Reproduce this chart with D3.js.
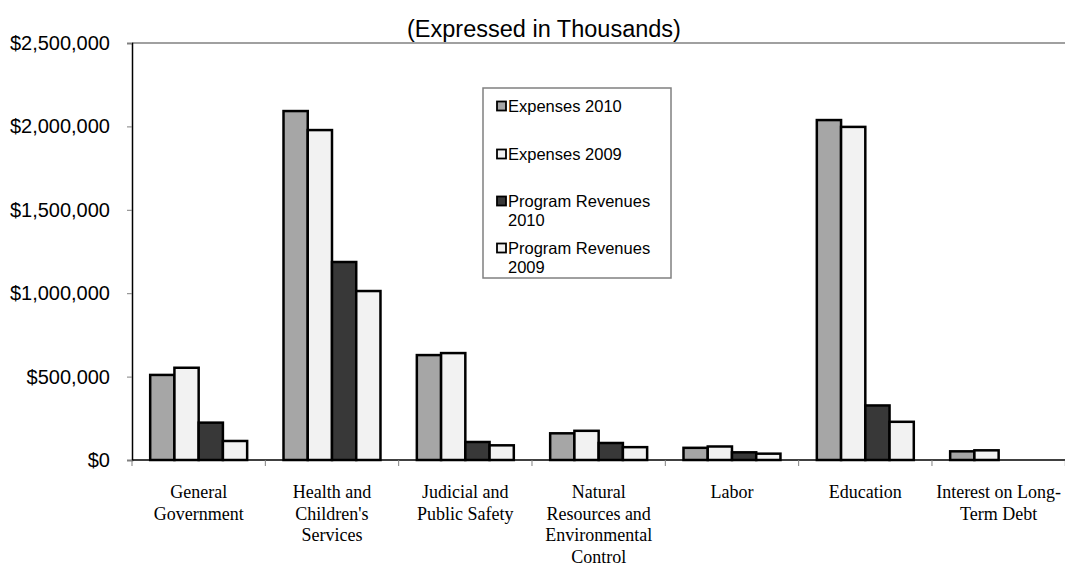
<!DOCTYPE html>
<html>
<head>
    <title>Expenses and Program Revenues</title>
    <script src="https://d3js.org/d3.v7.min.js"></script>
    <style>
        body { margin: 0; background: #fff; }
        svg { display: block; }
    </style>
</head>
<body>
    <svg id="chartdiv"></svg>
    <script>
        // data (expressed in thousands)
        const categories = ["General Government", "Health and Children's Services", "Judicial and Public Safety",
            "Natural Resources and Environmental Control", "Labor", "Education", "Interest on Long-Term Debt"];
        const labelLines = [
            ["General", "Government"],
            ["Health and", "Children's", "Services"],
            ["Judicial and", "Public Safety"],
            ["Natural", "Resources and", "Environmental", "Control"],
            ["Labor"],
            ["Education"],
            ["Interest on Long-", "Term Debt"]
        ];
        const seriesNames = ["Expenses 2010", "Expenses 2009", "Program Revenues 2010", "Program Revenues 2009"];
        const expenses2010 = [510000, 2092000, 629000, 160000, 73000, 2038000, 52000];
        const expenses2009 = [553000, 1978000, 641000, 175000, 81000, 1997000, 58000];
        const revenues2010 = [224000, 1187000, 108000, 102000, 46000, 327000, 0];
        const revenues2009 = [114000, 1013000, 88000, 77000, 38000, 229000, 0];
        const yTicks = [0, 500000, 1000000, 1500000, 2000000, 2500000];

        const colors = ["#a6a6a6", "#f2f2f2", "#383838", "#f2f2f2"];
        const legendLines = [["Expenses 2010"], ["Expenses 2009"], ["Program Revenues", "2010"], ["Program Revenues", "2009"]];

        const width = 1065;
        const height = 565;
        const plotLeft = 132, plotRight = 1065.3, plotTop = 43, plotBottom = 460;

        const svg = d3.select("#chartdiv")
            .attr("width", width)
            .attr("height", height);

        const allSeries = [expenses2010, expenses2009, revenues2010, revenues2009];

        const x0 = d3.scaleBand()
            .domain(categories)
            .range([plotLeft, plotRight]);

        const x1 = d3.scaleBand()
            .domain(seriesNames)
            .range([0, x0.bandwidth()])
            .paddingOuter(0.75);

        const y = d3.scaleLinear()
            .domain([0, 2500000])
            .range([plotBottom, plotTop]);

        // title
        svg.append("text")
            .attr("x", 544)
            .attr("y", 37)
            .attr("text-anchor", "middle")
            .style("font-family", "Liberation Sans, Arial, sans-serif")
            .style("font-size", "23.5px")
            .text("(Expressed in Thousands)");

        // top border of plot area
        svg.append("line")
            .attr("x1", plotLeft).attr("x2", width)
            .attr("y1", plotTop).attr("y2", plotTop)
            .style("stroke", "#808080")
            .style("stroke-width", 1.5);

        // y axis
        const yAxis = svg.append("g")
            .attr("transform", `translate(${plotLeft},0)`)
            .call(d3.axisLeft(y).tickValues(yTicks).tickFormat(d3.format("$,")).tickSize(5).tickPadding(17));
        yAxis.select(".domain").style("stroke", "#000").style("stroke-width", 1.5);
        yAxis.selectAll(".tick line").style("stroke", "#808080");
        yAxis.selectAll("text")
            .style("font-family", "Liberation Sans, Arial, sans-serif")
            .style("font-size", "20px")
            .style("fill", "#000");

        // bars
        const groups = svg.append("g").selectAll("g")
            .data(categories)
            .enter().append("g")
            .attr("transform", d => `translate(${x0(d)},0)`);

        groups.selectAll("rect")
            .data((d, i) => seriesNames.map((s, j) => ({ s: s, j: j, v: allSeries[j][i] })).filter(d => d.v > 0))
            .enter().append("rect")
            .attr("x", d => x1(d.s))
            .attr("y", d => y(d.v))
            .attr("width", x1.bandwidth())
            .attr("height", d => plotBottom - y(d.v))
            .style("fill", d => colors[d.j])
            .style("stroke", "#000")
            .style("stroke-width", 2.5);

        // x axis
        const xAxis = svg.append("g")
            .attr("transform", `translate(0,${plotBottom})`);
        xAxis.append("line")
            .attr("x1", plotLeft).attr("x2", width)
            .style("stroke", "#000")
            .style("stroke-width", 1.5);
        xAxis.selectAll(".xtick")
            .data(categories.concat(["end"]))
            .enter().append("line")
            .attr("class", "xtick")
            .attr("x1", (d, i) => plotLeft + i * x0.step())
            .attr("x2", (d, i) => plotLeft + i * x0.step())
            .attr("y1", 0).attr("y2", 6)
            .style("stroke", "#808080");

        const labels = svg.append("g").selectAll("text")
            .data(categories)
            .enter().append("text")
            .attr("x", d => x0(d) + x0.bandwidth() / 2)
            .attr("y", 498)
            .attr("text-anchor", "middle")
            .style("font-family", "Liberation Serif, Times New Roman, serif")
            .style("font-size", "18px");
        labels.selectAll("tspan")
            .data((d, i) => labelLines[i])
            .enter().append("tspan")
            .attr("x", function() { return this.parentNode.getAttribute("x"); })
            .attr("dy", (d, i) => i === 0 ? 0 : 21.5)
            .text(d => d);

        // legend
        const legend = svg.append("g").attr("transform", "translate(483,88)");
        legend.append("rect")
            .attr("width", 188).attr("height", 190)
            .style("fill", "#fff")
            .style("stroke", "#808080")
            .style("stroke-width", 1.5);

        const itemY = [18, 66, 113, 160];
        const items = legend.selectAll(".item")
            .data(seriesNames)
            .enter().append("g")
            .attr("class", "item")
            .attr("transform", (d, i) => `translate(0,${itemY[i]})`);
        items.append("rect")
            .attr("x", 14).attr("y", -4.5)
            .attr("width", 9).attr("height", 9)
            .style("fill", (d, i) => colors[i])
            .style("stroke", "#000")
            .style("stroke-width", 1.8);
        const itemText = items.append("text")
            .attr("x", 25)
            .attr("y", 5.5)
            .style("font-family", "Liberation Sans, Arial, sans-serif")
            .style("font-size", "16.5px");
        itemText.selectAll("tspan")
            .data((d, i) => legendLines[i])
            .enter().append("tspan")
            .attr("x", 25)
            .attr("dy", (d, i) => i === 0 ? 0 : 19.5)
            .text(d => d);
    </script>
</body>
</html>
